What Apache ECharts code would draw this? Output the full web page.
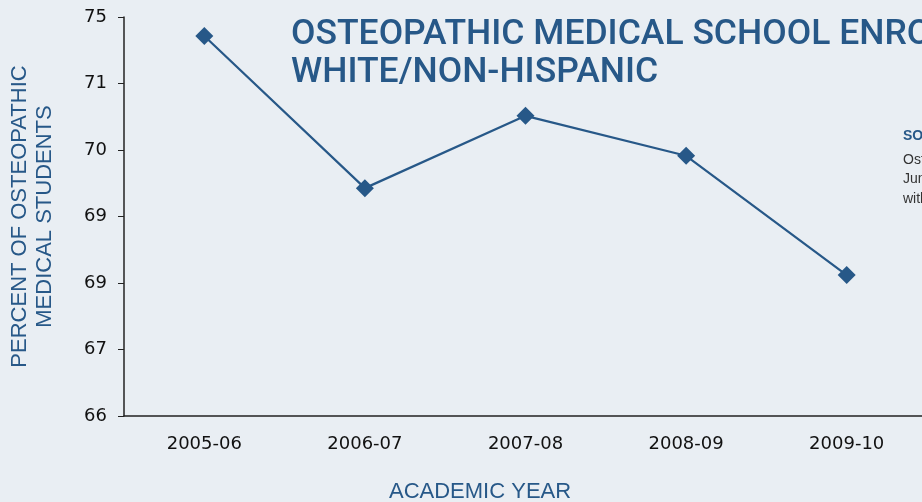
<!DOCTYPE html>
<html>
<head>
<meta charset="utf-8">
<script src="https://cdn.jsdelivr.net/npm/echarts@6/dist/echarts.min.js"></script>
<style>
html,body{margin:0;padding:0;background:#e9eef3;}
#main{width:922px;height:502px;}
</style>
</head>
<body>
<div id="main"></div>
<script>
var years = ['2005-06', '2006-07', '2007-08', '2008-09', '2009-10'];//学年
var pct = [74.57, 71.14, 72.77, 71.87, 69.18];//白人/非西班牙裔比例
var yTickLabels = ['66', '67', '69', '69', '70', '71', '75'];//原图的刻度文字
var yMin = 66, yMax = 75, yStep = 1.5;

var blue = '#275888';
var myChart = echarts.init(document.getElementById('main'));
var option = {
	backgroundColor: '#e9eef3',
	title: {
		text: 'OSTEOPATHIC MEDICAL SCHOOL ENROLLMENT\nWHITE/NON-HISPANIC',
		left: 286,
		top: 11,
		textStyle: {color: blue, fontFamily: 'Roboto', fontWeight: 500, fontSize: 35.5, lineHeight: 38}
	},
	grid: {left: 124, right: -5, top: 17, bottom: 86, containLabel: false, outerBoundsMode: 'none'},
	xAxis: {
		type: 'category',
		data: years,
		boundaryGap: true,
		axisLine: {lineStyle: {color: '#222', width: 1.5}},
		axisTick: {length: 7, lineStyle: {color: '#222'}},
		axisLabel: {color: '#111', fontFamily: 'DejaVu Sans', fontSize: 18, margin: 19}
	},
	yAxis: {
		type: 'value',
		min: yMin,
		max: yMax,
		interval: yStep,
		name: 'PERCENT OF OSTEOPATHIC\nMEDICAL STUDENTS',
		nameLocation: 'middle',
		nameGap: 67,
		nameTextStyle: {color: blue, fontFamily: 'Liberation Sans', fontSize: 22, lineHeight: 25},
		splitLine: {show: false},
		axisLine: {show: true, lineStyle: {color: '#222', width: 1.5}},
		axisTick: {show: true, length: 6, lineStyle: {color: '#222'}},
		axisLabel: {
			color: '#111', fontFamily: 'DejaVu Sans', fontSize: 18, margin: 17,
			formatter: function (v) {
				var i = Math.round((v - yMin) / yStep);
				return yTickLabels[i] || '';
			}
		}
	},
	graphic: [
		{type: 'text', left: 389, top: 481, style: {text: 'ACADEMIC YEAR', fill: blue, font: '22px "Liberation Sans"'}},
		{type: 'text', left: 903, top: 129, style: {text: 'SOURCE:', fill: blue, font: 'bold 14px "Liberation Sans"'}},
		{type: 'text', left: 903, top: 150, style: {text: 'Osteopathic Medical College Information Book,\nJune 2010, AACOM, in collaboration\nwith the colleges', fill: '#333', font: '14px "Liberation Sans"', lineHeight: 19.5}}
	],
	series: [{
		type: 'line',
		data: pct,
		symbol: 'diamond',
		symbolSize: 18,
		lineStyle: {color: blue, width: 2.2},
		itemStyle: {color: blue},
		z: 5
	}]
};
myChart.setOption(option);
</script>
</body>
</html>
